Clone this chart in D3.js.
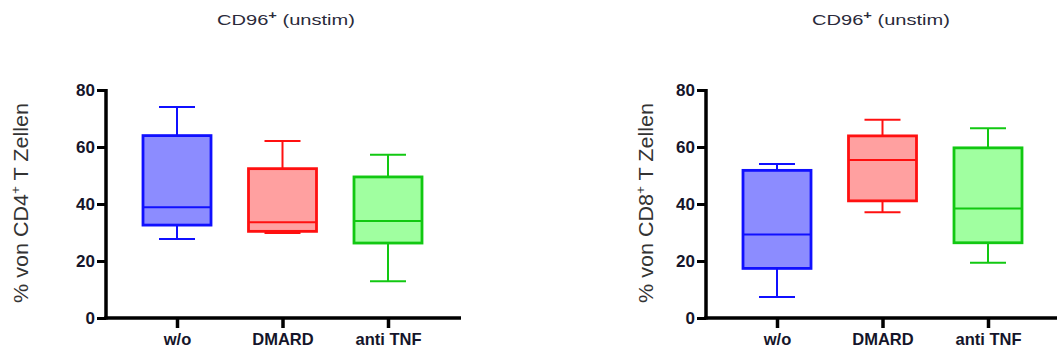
<!DOCTYPE html>
<html>
<head>
<meta charset="utf-8">
<script src="https://d3js.org/d3.v7.min.js"></script>
<style>
  html, body { margin: 0; padding: 0; background: #fff; }
  svg { display: block; }
</style>
</head>
<body>
<svg id="chart" width="1057" height="354"></svg>
<script>
// Treatment groups shown on the x axis
const categories = ["w/o", "DMARD", "anti TNF"];
const yTicks = [0, 20, 40, 60, 80];

// Box summaries [min, Q1, median, Q3, max] for CD96+ cells among CD4+ T cells
const cd4Min    = [27.7, 29.8, 12.9];
const cd4Q1     = [32.6, 30.4, 26.3];
const cd4Median = [38.9, 33.6, 34.0];
const cd4Q3     = [64.0, 52.4, 49.5];
const cd4Max    = [74.0, 62.1, 57.3];

// Box summaries for CD96+ cells among CD8+ T cells
const cd8Min    = [7.4, 37.1, 19.4];
const cd8Q1     = [17.4, 41.1, 26.4];
const cd8Median = [29.3, 55.4, 38.4];
const cd8Q3     = [51.8, 63.9, 59.7];
const cd8Max    = [54.0, 69.6, 66.6];

const strokeColors = ["#1010ff", "#ff1010", "#12c812"];
const fillColors   = ["#8c8cff", "#ffa0a0", "#a0ffa0"];
const FONT = "Liberation Sans, Arial, sans-serif";

const svg = d3.select("#chart");

function panel(opts) {
  const g = svg.append("g");
  const x = d3.scalePoint().domain(categories)
    .range([opts.x0 + 71, opts.x0 + 282]);
  const y = d3.scaleLinear().domain([0, 80]).range([318, 90]);

  // title
  const title = g.append("text")
    .attr("x", opts.titleX).attr("y", 25)
    .attr("text-anchor", "middle")
    .attr("font-family", FONT)
    .attr("font-size", 15).attr("fill", "#2a2a3a")
    .attr("textLength", 138).attr("lengthAdjust", "spacingAndGlyphs");
  title.append("tspan").text("CD96");
  title.append("tspan").text("+").attr("dy", -6).attr("font-size", 11).attr("font-weight", "bold");
  title.append("tspan").text(" (unstim)").attr("dy", 6);

  // y label
  const yl = g.append("text")
    .attr("transform", `translate(${opts.labelX},${203}) rotate(-90)`)
    .attr("text-anchor", "middle")
    .attr("font-family", FONT)
    .attr("font-size", 21).attr("fill", "#333")
    .attr("textLength", 200).attr("lengthAdjust", "spacingAndGlyphs");
  yl.append("tspan").text("% von " + opts.cell);
  yl.append("tspan").text("+").attr("dy", -8).attr("font-size", 13);
  yl.append("tspan").text(" T Zellen").attr("dy", 8);

  const bw = 68, cw = 36;
  categories.forEach((c, i) => {
    const cx = x(c);
    const d = {min: opts.min[i], q1: opts.q1[i], med: opts.med[i], q3: opts.q3[i], max: opts.max[i]};
    const bg = g.append("g").attr("stroke", strokeColors[i]).attr("stroke-width", 2);
    // whiskers
    bg.append("line").attr("x1", cx).attr("x2", cx).attr("y1", y(d.max)).attr("y2", y(d.q3));
    bg.append("line").attr("x1", cx).attr("x2", cx).attr("y1", y(d.q1)).attr("y2", y(d.min));
    bg.append("line").attr("x1", cx - cw/2).attr("x2", cx + cw/2).attr("y1", y(d.max)).attr("y2", y(d.max));
    bg.append("line").attr("x1", cx - cw/2).attr("x2", cx + cw/2).attr("y1", y(d.min)).attr("y2", y(d.min));
    // box
    bg.append("rect").attr("x", cx - bw/2).attr("width", bw)
      .attr("y", y(d.q3)).attr("height", y(d.q1) - y(d.q3))
      .attr("fill", fillColors[i]).attr("stroke-width", 2.8);
    // median
    bg.append("line").attr("x1", cx - bw/2).attr("x2", cx + bw/2)
      .attr("y1", y(d.med)).attr("y2", y(d.med));
  });

  // y axis
  const ya = g.append("g").attr("transform", `translate(${opts.x0},0)`)
    .call(d3.axisLeft(y).tickValues(yTicks).tickSize(9).tickPadding(2).tickSizeOuter(0));
  ya.select(".domain").attr("stroke-width", 3.5).attr("stroke", "#000")
    .attr("d", `M0,${y(80) - 1}V${y(0) + 1.5}`);
  ya.selectAll(".tick line").attr("stroke-width", 3);
  ya.selectAll(".tick text")
    .attr("font-family", FONT)
    .attr("font-size", 17).attr("font-weight", "bold").attr("fill", "#15152a");

  // x axis
  const xa = g.append("g").attr("transform", `translate(0,${y(0)})`)
    .call(d3.axisBottom(x).tickSize(10).tickPadding(5).tickSizeOuter(0));
  xa.select(".domain").attr("stroke-width", 3.5).attr("stroke", "#000")
    .attr("d", `M${opts.x0 - 1.75},0H${opts.xEnd}`);
  xa.selectAll(".tick line").attr("stroke-width", 3.5);
  xa.selectAll(".tick text")
    .attr("font-family", FONT)
    .attr("font-size", 16.5).attr("font-weight", "bold").attr("fill", "#15152a");
}

panel({x0: 106, xEnd: 461, titleX: 286, labelX: 28, cell: "CD4",
  min: cd4Min, q1: cd4Q1, med: cd4Median, q3: cd4Q3, max: cd4Max});
panel({x0: 706, xEnd: 1057, titleX: 881, labelX: 653, cell: "CD8",
  min: cd8Min, q1: cd8Q1, med: cd8Median, q3: cd8Q3, max: cd8Max});
</script>
</body>
</html>
